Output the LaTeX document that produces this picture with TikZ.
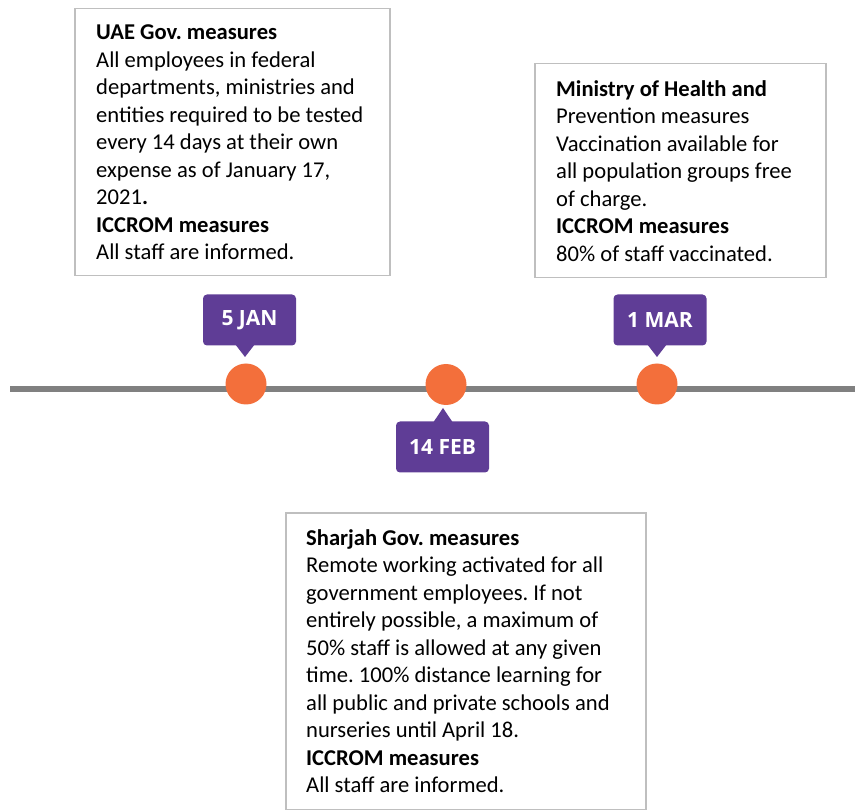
\documentclass[tikz,border=0pt]{standalone}
\usepackage{fontspec}
\setmainfont{Carlito}
\newfontfamily\labelfont{Open Sans}
\frenchspacing
\definecolor{tlgray}{HTML}{808080}
\definecolor{tlpurple}{HTML}{5F3D96}
\definecolor{tlorange}{HTML}{F36F3B}
\definecolor{boxgray}{HTML}{BFBFBF}
\tikzset{
  infobox/.style={draw=boxgray, line width=1.5pt, fill=white, inner sep=0pt, anchor=north west},
  infotext/.style={anchor=west, align=left, inner sep=0pt, font=\fontsize{22.6}{27.5}\selectfont\frenchspacing, text=black},
  datelabel/.style={fill=tlpurple, rounded corners=4pt, inner sep=0pt, minimum width=93pt, minimum height=51pt, text=white, font=\labelfont\bfseries\fontsize{21}{24}\selectfont},
  dot/.style={circle, fill=tlorange, inner sep=0pt, minimum size=41pt},
}
\begin{document}
\begin{tikzpicture}[x=1pt,y=-1pt]
\useasboundingbox (0,0) rectangle (855,810);
% timeline
\coordinate (lineL) at (10,389.5);
\coordinate (lineR) at (855,389.5);
\draw[tlgray, line width=6pt] (lineL) -- (lineR);
% dots
\node[dot] (c1) at (246,384) {};
\node[dot] (c2) at (446,384.5) {};
\node[dot] (c3) at (657,384) {};
% labels
\node[datelabel] (l1) at (249.5,320) {5 JAN};
\node[datelabel] (l2) at (442.5,447) {14 FEB};
\node[datelabel] (l3) at (660,320) {1 MAR};
\coordinate (p1) at (245,357);
\coordinate (p2) at (443,408);
\coordinate (p3) at (657,357);
\fill[tlpurple] ([xshift=-11pt,yshift=3pt]l1.south -| p1) -- (p1) -- ([xshift=11pt,yshift=3pt]l1.south -| p1) -- cycle;
\fill[tlpurple] ([xshift=-11pt,yshift=-3pt]l2.north -| p2) -- (p2) -- ([xshift=11pt,yshift=-3pt]l2.north -| p2) -- cycle;
\fill[tlpurple] ([xshift=-11pt,yshift=3pt]l3.south -| p3) -- (p3) -- ([xshift=11pt,yshift=3pt]l3.south -| p3) -- cycle;
% boxes
\node[infobox, minimum width=315pt, minimum height=267pt] (b1) at (74,8) {};
\node[infotext] (t1) at ([xshift=22pt]b1.west) {\textbf{UAE Gov. measures}\\All employees in federal\\departments, ministries and\\entities required to be tested\\every 14 days at their own\\expense as of January 17,\\2021\textbf{.}\\\textbf{ICCROM measures}\\All staff are informed.};
\node[infobox, minimum width=291pt, minimum height=214pt] (b2) at (534,63) {};
\node[infotext] (t2) at ([xshift=22pt]b2.west) {\textbf{Ministry of Health and}\\Prevention measures\\Vaccination available for\\all population groups free\\of charge.\\\textbf{ICCROM measures}\\80\% of staff vaccinated.};
\node[infobox, minimum width=360pt, minimum height=297pt] (b3) at (285,512) {};
\node[infotext] (t3) at ([xshift=21pt]b3.west) {\textbf{Sharjah Gov. measures}\\Remote working activated for all\\government employees. If not\\entirely possible, a maximum of\\50\% staff is allowed at any given\\time. 100\% distance learning for\\all public and private schools and\\nurseries until April 18.\\\textbf{ICCROM measures}\\All staff are informed.};
\end{tikzpicture}
\end{document}
